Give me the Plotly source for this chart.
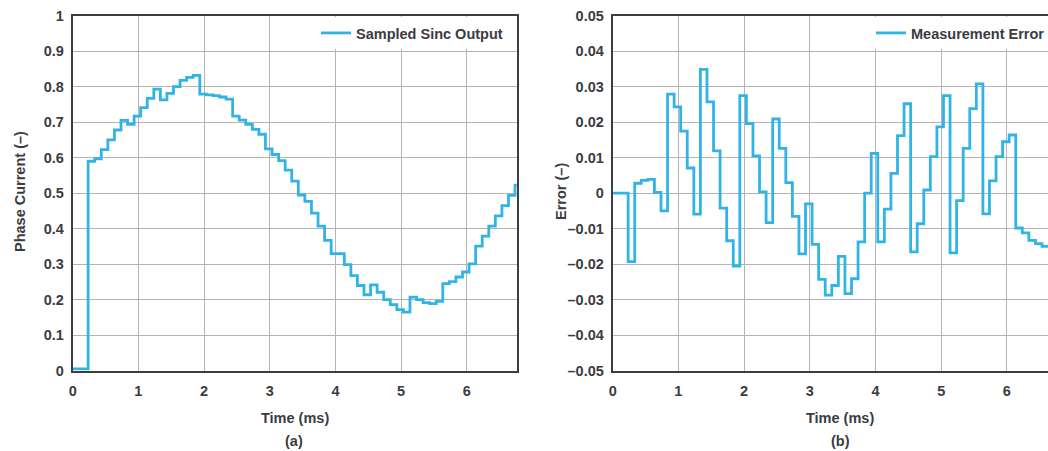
import plotly.graph_objects as go

# ---------------- data ----------------
sample_start_ms = 0.235   # first sample instant (ms)
sample_period_ms = 0.1    # sample period (ms)

initial_left = 0.005      # value before the first sample
initial_right = 0.0

sinc_output = [
    0.590, 0.597, 0.623, 0.650, 0.678, 0.705, 0.694, 0.717, 0.741, 0.767,
    0.793, 0.763, 0.781, 0.800, 0.818, 0.826, 0.832, 0.779, 0.777, 0.775,
    0.771, 0.765, 0.717, 0.706, 0.694, 0.680, 0.666, 0.625, 0.609, 0.592,
    0.565, 0.534, 0.495, 0.477, 0.444, 0.407, 0.367, 0.330, 0.330, 0.299,
    0.268, 0.240, 0.214, 0.242, 0.221, 0.200, 0.186, 0.172, 0.165, 0.207,
    0.200, 0.192, 0.189, 0.195, 0.245, 0.251, 0.264, 0.278, 0.301, 0.351,
    0.379, 0.407, 0.436, 0.465, 0.494, 0.523,
]

measurement_error = [
    -0.0193, 0.0028, 0.0036, 0.0039, 0.0002, -0.0050, 0.0279, 0.0243, 0.0175, 0.0071,
    -0.0059, 0.0349, 0.0257, 0.0119, -0.0042, -0.0134, -0.0205, 0.0275, 0.0196, 0.0105,
    0.0004, -0.0083, 0.0209, 0.0126, 0.0030, -0.0065, -0.0171, -0.0030, -0.0144, -0.0243,
    -0.0287, -0.0260, -0.0178, -0.0283, -0.0241, -0.0137, 0.0000, 0.0112, -0.0137, -0.0045,
    0.0056, 0.0162, 0.0252, -0.0165, -0.0086, 0.0009, 0.0103, 0.0187, 0.0275, -0.0168,
    -0.0021, 0.0126, 0.0238, 0.0308, -0.0058, 0.0035, 0.0103, 0.0145, 0.0164, -0.0098,
    -0.0112, -0.0133, -0.0142, -0.0150,
]

x_ticks = [0, 1, 2, 3, 4, 5, 6]
left_y_ticks = [0, 0.1, 0.2, 0.3, 0.4, 0.5, 0.6, 0.7, 0.8, 0.9, 1]
left_y_text = ["0", "0.1", "0.2", "0.3", "0.4", "0.5", "0.6", "0.7", "0.8", "0.9", "1"]
right_y_ticks = [-0.05, -0.04, -0.03, -0.02, -0.01, 0, 0.01, 0.02, 0.03, 0.04, 0.05]
right_y_text = ["\u20130.05", "\u20130.04", "\u20130.03", "\u20130.02", "\u20130.01", "0",
                "0.01", "0.02", "0.03", "0.04", "0.05"]

left_x_range = [0, 6.76]
right_x_range = [0, 6.626]
end_time_ms = 7.0

# ---------------- build series ----------------
def step_series(initial, samples):
    xs = [0.0]
    ys = [initial]
    for k, v in enumerate(samples):
        xs.append(sample_start_ms + k * sample_period_ms)
        ys.append(v)
    xs.append(end_time_ms)
    ys.append(samples[-1])
    return xs, ys

tl, yl = step_series(initial_left, sinc_output)
tr, yr = step_series(initial_right, measurement_error)

# ---------------- style ----------------
W, H = 1048, 451
FONT = "Liberation Sans"
FS = 14.5
TXT = "#3b3b42"
AXC = "#3d3d45"
GRID = "#b3b3b8"
BLUE = "#30b4e6"

def px_x(p):
    return p / W

def px_y(p):
    return 1 - p / H

fig = go.Figure()
fig.add_trace(go.Scatter(
    x=tl, y=yl, mode="lines", name="Sampled Sinc Output",
    line=dict(shape="hv", color=BLUE, width=2.8),
    xaxis="x", yaxis="y", legend="legend",
))
fig.add_trace(go.Scatter(
    x=tr, y=yr, mode="lines", name="Measurement Error",
    line=dict(shape="hv", color=BLUE, width=2.8),
    xaxis="x2", yaxis="y2", legend="legend2",
))

tickfont = dict(family=FONT, size=FS, color=TXT, weight="bold")
common_axis = dict(
    showgrid=True, gridcolor=GRID, gridwidth=1.2,
    showline=True, linecolor=AXC, linewidth=2,
    zeroline=False, ticks="", tickfont=tickfont, fixedrange=True,
    automargin=False,
)

y_dom = [px_y(370.7), px_y(15.7)]
legend_font = dict(family=FONT, size=FS, color=TXT, weight="bold")

fig.update_layout(
    width=W, height=H,
    margin=dict(l=0, r=0, t=0, b=0, pad=0, autoexpand=False),
    paper_bgcolor="white", plot_bgcolor="white",
    xaxis=dict(domain=[px_x(72.7), px_x(516.7)], range=left_x_range,
               tickvals=x_ticks, mirror=True, anchor="y",
               ticklabelstandoff=6, **common_axis),
    yaxis=dict(domain=y_dom, range=[0, 1], tickvals=left_y_ticks, ticktext=left_y_text,
               mirror=True, anchor="x", ticklabelstandoff=4, **common_axis),
    xaxis2=dict(domain=[px_x(612.7), 1.0], range=right_x_range,
                tickvals=x_ticks, mirror=True, anchor="y2",
                ticklabelstandoff=6, **common_axis),
    yaxis2=dict(domain=y_dom, range=[-0.05, 0.05], tickvals=right_y_ticks,
                ticktext=right_y_text, mirror=False, anchor="x2",
                ticklabelstandoff=4, **common_axis),
    legend=dict(x=px_x(316), xanchor="left", y=px_y(17), yanchor="top",
                bgcolor="white", borderwidth=0, font=legend_font),
    legend2=dict(x=px_x(871), xanchor="left", y=px_y(17), yanchor="top",
                 bgcolor="white", borderwidth=0, font=legend_font),
    showlegend=True,
)

ann_font = dict(family=FONT, size=FS, color=TXT, weight="bold")
annotations = [
    dict(text="Phase Current (\u2013)", x=px_x(20), y=px_y(192), textangle=-90),
    dict(text="Error (\u2013)", x=px_x(561), y=px_y(192), textangle=-90),
    dict(text="Time (ms)", x=px_x(295), y=px_y(418)),
    dict(text="Time (ms)", x=px_x(840), y=px_y(418)),
    dict(text="(a)", x=px_x(294), y=px_y(441)),
    dict(text="(b)", x=px_x(840), y=px_y(441)),
]
for a in annotations:
    a.update(xref="paper", yref="paper", xanchor="center", yanchor="middle",
             showarrow=False, font=ann_font)
fig.update_layout(annotations=annotations)

fig.write_html(
    "out.html",
    config={"displayModeBar": False},
    post_script="document.body.style.margin='0';document.body.style.overflow='hidden';",
)
